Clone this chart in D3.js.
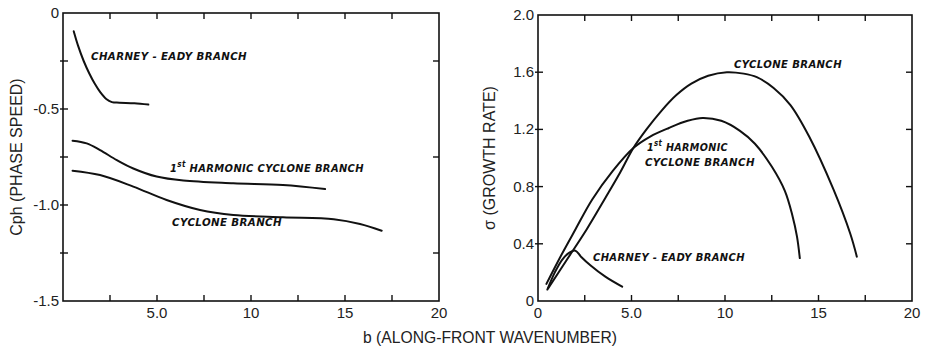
<!DOCTYPE html>
<html>
<head>
<meta charset="utf-8">
<script src="https://cdn.jsdelivr.net/npm/d3@7"></script>
<style>
  html, body { margin: 0; padding: 0; background: #fff; }
  svg { display: block; }
</style>
</head>
<body>
<svg id="chart" width="929" height="348"></svg>
<script>
// ---------------- DATA ----------------
// Left panel: phase speed Cph vs along-front wavenumber b
const phaseCharneyEady = [
  [0.57, -0.095], [0.8, -0.17], [1.1, -0.25], [1.4, -0.315], [1.7, -0.37],
  [2.0, -0.415], [2.3, -0.448], [2.6, -0.464], [3.0, -0.467], [3.8, -0.47], [4.54, -0.477]
];
const phaseHarmonic = [
  [0.51, -0.665], [1.26, -0.679], [1.97, -0.714], [2.86, -0.766], [3.74, -0.81],
  [4.98, -0.852], [6.4, -0.873], [9.06, -0.887], [11.7, -0.896], [13.94, -0.917]
];
const phaseCyclone = [
  [0.51, -0.821], [1.97, -0.844], [3.74, -0.904], [5.51, -0.974], [7.29, -1.026],
  [9.06, -1.052], [11.7, -1.064], [14.4, -1.074], [15.8, -1.099], [16.95, -1.134]
];
// Right panel: growth rate sigma vs b
const growthCharneyEady = [
  [0.5, 0.08], [0.9, 0.2], [1.3, 0.29], [1.7, 0.34], [2.0, 0.352], [2.3, 0.31],
  [2.8, 0.25], [3.6, 0.17], [4.5, 0.1]
];
const growthHarmonic = [
  [0.45, 0.12], [1.2, 0.31], [2.0, 0.5], [2.9, 0.71], [4.0, 0.91], [5.1, 1.07],
  [6.0, 1.15], [7.0, 1.21], [8.0, 1.26], [8.8, 1.28], [9.8, 1.26], [10.8, 1.19],
  [11.6, 1.1], [12.5, 0.94], [13.2, 0.77], [13.6, 0.6], [13.85, 0.45], [14.0, 0.3]
];
const growthCyclone = [
  [0.55, 0.09], [1.5, 0.28], [2.6, 0.5], [3.6, 0.72], [4.4, 0.9], [5.1, 1.07],
  [5.8, 1.2], [6.6, 1.33], [7.4, 1.44], [8.2, 1.52], [9.1, 1.575], [10.1, 1.6],
  [11.0, 1.59], [11.7, 1.565], [12.6, 1.49], [13.5, 1.37], [14.5, 1.15],
  [15.8, 0.78], [16.7, 0.47], [17.05, 0.31]
];
// Tick values / labels
const xTicksMinor = [2.5, 5, 7.5, 10, 12.5, 15, 17.5];
const xLabelsLeft = [[5, "5.0"], [10, "10"], [15, "15"], [20, "20"]];
const xLabelsRight = [[0, "0"], [5, "5.0"], [10, "10"], [15, "15"], [20, "20"]];
const yTicksLeft = [-0.25, -0.5, -0.75, -1.0, -1.25];
const yLabelsLeft = [[0, "0"], [-0.5, "-0.5"], [-1.0, "-1.0"], [-1.5, "-1.5"]];
const yRightTicksLeft = [-0.25, -0.75, -1.25];
const yTicksRight = [0.4, 0.8, 1.2, 1.6];
const yLabelsRight = [[0, "0"], [0.4, "0.4"], [0.8, "0.8"], [1.2, "1.2"], [1.6, "1.6"], [2.0, "2.0"]];
// Texts
const yTitleLeft = "Cph (PHASE SPEED)";
const yTitleRight = "σ (GROWTH RATE)";
const xTitle = "b (ALONG-FRONT WAVENUMBER)";

// ---------------- DRAW ----------------
const svg = d3.select("#chart");
const ink = "#111";
const tickFont = "'Liberation Sans', Arial, sans-serif";
const noteFont = "'DejaVu Sans', sans-serif";

function panel(opts) {
  const x = d3.scaleLinear().domain([0, 20]).range(opts.xr);
  const y = d3.scaleLinear().domain(opts.yd).range(opts.yr);
  const g = svg.append("g");
  const [x0, x1] = opts.xr, yTop = Math.min(...opts.yr), yBot = Math.max(...opts.yr);
  g.append("rect").attr("x", x0).attr("y", yTop).attr("width", x1 - x0).attr("height", yBot - yTop)
    .attr("fill", "none").attr("stroke", ink).attr("stroke-width", 1.6);
  const tl = 6;
  xTicksMinor.forEach(v => {
    g.append("line").attr("x1", x(v)).attr("x2", x(v)).attr("y1", yBot).attr("y2", yBot - tl)
      .attr("stroke", ink).attr("stroke-width", 1.4);
    g.append("line").attr("x1", x(v)).attr("x2", x(v)).attr("y1", yTop).attr("y2", yTop + tl)
      .attr("stroke", ink).attr("stroke-width", 1.4);
  });
  opts.yTicks.forEach(v => {
    g.append("line").attr("x1", x0 - 3).attr("x2", x0 + 5).attr("y1", y(v)).attr("y2", y(v))
      .attr("stroke", ink).attr("stroke-width", 1.4);
  });
  opts.yRightTicks.forEach(v => {
    g.append("line").attr("x1", x1).attr("x2", x1 - tl).attr("y1", y(v)).attr("y2", y(v))
      .attr("stroke", ink).attr("stroke-width", 1.4);
  });
  opts.xLabels.forEach(([v, t]) => {
    g.append("text").attr("x", x(v)).attr("y", yBot + 17).attr("text-anchor", "middle")
      .attr("font-family", tickFont).attr("font-size", 15).attr("fill", "#222").text(t);
  });
  opts.yLabels.forEach(([v, t]) => {
    g.append("text").attr("x", x0 - 4).attr("y", y(v) + 5).attr("text-anchor", "end")
      .attr("font-family", tickFont).attr("font-size", 15).attr("fill", "#222").text(t);
  });
  const line = d3.line().x(d => x(d[0])).y(d => y(d[1])).curve(d3.curveCatmullRom.alpha(0.5));
  opts.series.forEach(s => {
    g.append("path").attr("d", line(s)).attr("fill", "none").attr("stroke", ink)
      .attr("stroke-width", 2).attr("stroke-linejoin", "round").attr("stroke-linecap", "round");
  });
  opts.notes.forEach(n => {
    const t = g.append("text").attr("x", x(n.b)).attr("y", y(n.v))
      .attr("font-family", noteFont).attr("font-style", "italic").attr("font-weight", "bold")
      .attr("font-size", 11).attr("fill", ink).attr("letter-spacing", 0.4);
    if (n.sup) {
      t.append("tspan").text("1");
      t.append("tspan").attr("dy", -5).attr("font-size", 8).text("st");
      t.append("tspan").attr("dy", 5).text(" " + n.text);
    } else {
      t.text(n.text);
    }
    if (n.len) t.attr("textLength", n.len).attr("lengthAdjust", "spacingAndGlyphs");
  });
  svg.append("text")
    .attr("transform", `translate(${opts.titleX},${(yTop + yBot) / 2}) rotate(-90)`)
    .attr("text-anchor", "middle").attr("font-family", tickFont).attr("font-size", 16)
    .attr("fill", "#222").text(opts.title);
}

panel({
  xr: [63, 439], yd: [0, -1.5], yr: [13, 301],
  yTicks: yTicksLeft, yRightTicks: yRightTicksLeft,
  xLabels: xLabelsLeft, yLabels: yLabelsLeft,
  series: [phaseCharneyEady, phaseHarmonic, phaseCyclone],
  notes: [
    { b: 1.49, v: -0.245, text: "CHARNEY - EADY  BRANCH", len: 156 },
    { b: 5.69, v: -0.83, text: "HARMONIC  CYCLONE  BRANCH", sup: true, len: 194 },
    { b: 5.8, v: -1.11, text: "CYCLONE  BRANCH", len: 110 }
  ],
  title: yTitleLeft, titleX: 22
});

panel({
  xr: [538, 912], yd: [0, 2.0], yr: [301, 15],
  yTicks: yTicksRight, yRightTicks: yTicksRight,
  xLabels: xLabelsRight, yLabels: yLabelsRight,
  series: [growthCharneyEady, growthHarmonic, growthCyclone],
  notes: [
    { b: 10.48, v: 1.63, text: "CYCLONE  BRANCH", len: 108 },
    { b: 5.83, v: 1.05, text: "HARMONIC", sup: true, len: 81 },
    { b: 5.72, v: 0.944, text: "CYCLONE  BRANCH", len: 110 },
    { b: 2.94, v: 0.28, text: "CHARNEY - EADY  BRANCH", len: 152 }
  ],
  title: yTitleRight, titleX: 495
});

svg.append("text").attr("x", 490).attr("y", 343).attr("text-anchor", "middle")
  .attr("font-family", tickFont).attr("font-size", 17).attr("fill", "#222")
  .attr("textLength", 254).attr("lengthAdjust", "spacingAndGlyphs").text(xTitle);
</script>
</body>
</html>
